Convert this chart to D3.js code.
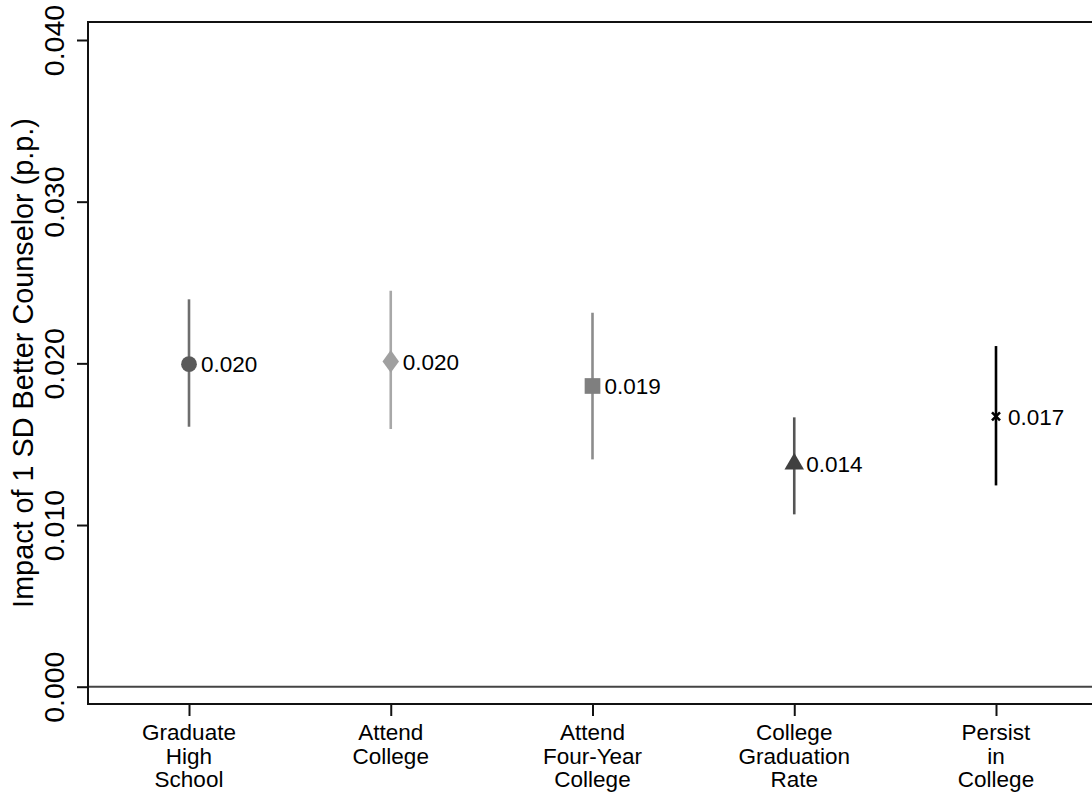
<!DOCTYPE html>
<html>
<head>
<meta charset="utf-8">
<script src="https://cdn.jsdelivr.net/npm/d3@7"></script>
<style>
  html, body { margin: 0; padding: 0; background: #fff; }
  svg { display: block; font-family: "Liberation Sans", Arial, Helvetica, sans-serif; }
</style>
</head>
<body>
<svg id="chart" width="1092" height="794"></svg>
<script>
// Outcome categories (multi-line tick labels)
const categories = [
  ["Graduate", "High", "School"],
  ["Attend", "College"],
  ["Attend", "Four-Year", "College"],
  ["College", "Graduation", "Rate"],
  ["Persist", "in", "College"]
];
// Point estimates and 95% confidence bounds
const estimates = [0.01995, 0.02012, 0.01860, 0.01378, 0.01672];
const ciLow     = [0.01608, 0.01594, 0.01406, 0.01066, 0.01245];
const ciHigh    = [0.02396, 0.02449, 0.02313, 0.01666, 0.02107];
const yTicks    = [0.000, 0.010, 0.020, 0.030, 0.040];
const yTitle    = "Impact of 1 SD Better Counselor (p.p.)";

// Marker styling per outcome
const markerShapes = ["circle", "diamond", "square", "triangle", "cross"];
const markerFill   = ["#5a5a5a", "#a0a0a0", "#7f7f7f", "#404040", "#000000"];
const lineColor    = ["#6e6e6e", "#a8a8a8", "#8c8c8c", "#555555", "#000000"];

const svg = d3.select("#chart");
const plot = { left: 88, top: 22, bottom: 704, right: 1092 };

const x = d3.scaleLinear().domain([1, 5]).range([189, 996]);
const y = d3.scaleLinear().domain([0, 0.04]).range([686.7, 40]);

const rows = estimates.map((v, i) => ({
  i, v, lo: ciLow[i], hi: ciHigh[i], shape: markerShapes[i],
  fill: markerFill[i], stroke: lineColor[i], label: categories[i]
}));

// frame: top line
svg.append("line")
  .attr("x1", plot.left).attr("x2", plot.right)
  .attr("y1", plot.top).attr("y2", plot.top)
  .attr("stroke", "#111").attr("stroke-width", 2);

// zero reference line
svg.append("line")
  .attr("x1", plot.left).attr("x2", plot.right)
  .attr("y1", y(0)).attr("y2", y(0))
  .attr("stroke", "#444").attr("stroke-width", 2);

// y axis
const yAxis = svg.append("g")
  .attr("transform", `translate(${plot.left},0)`)
  .call(d3.axisLeft(y).tickValues(yTicks).tickFormat(d3.format(".3f"))
    .tickSize(11).tickSizeOuter(0));
yAxis.select(".domain").remove();
yAxis.selectAll(".tick line").attr("stroke", "#111").attr("stroke-width", 2);
yAxis.selectAll(".tick text")
  .attr("x", 0).attr("y", 0)
  .attr("transform", "translate(-24,0) rotate(-90)")
  .attr("text-anchor", "middle")
  .attr("dy", 0)
  .attr("fill", "#000")
  .style("font-size", "28.5px");
svg.append("line")
  .attr("x1", plot.left).attr("x2", plot.left)
  .attr("y1", plot.top - 1).attr("y2", plot.bottom + 1)
  .attr("stroke", "#111").attr("stroke-width", 2);

// x axis
const xAxis = svg.append("g")
  .attr("transform", `translate(0,${plot.bottom})`)
  .call(d3.axisBottom(x).tickValues(d3.range(1, 6)).tickFormat("")
    .tickSize(12).tickSizeOuter(0));
xAxis.select(".domain").remove();
xAxis.selectAll(".tick line").attr("stroke", "#111").attr("stroke-width", 2);
svg.append("line")
  .attr("x1", plot.left - 1).attr("x2", plot.right)
  .attr("y1", plot.bottom).attr("y2", plot.bottom)
  .attr("stroke", "#111").attr("stroke-width", 2);

const xLabels = svg.append("g").selectAll("text").data(rows).join("text")
  .attr("text-anchor", "middle")
  .attr("fill", "#000")
  .style("font-size", "22.5px");
xLabels.each(function(d) {
  d3.select(this).selectAll("tspan").data(d.label).join("tspan")
    .attr("x", x(d.i + 1))
    .attr("y", (t, k) => 740 + k * 23.5)
    .text(t => t);
});

// y axis title
svg.append("text")
  .attr("transform", `translate(33,${(plot.top + plot.bottom) / 2}) rotate(-90)`)
  .attr("text-anchor", "middle")
  .attr("fill", "#000")
  .style("font-size", "28.8px")
  .text(yTitle);

// confidence intervals
svg.append("g").selectAll("line").data(rows).join("line")
  .attr("x1", d => x(d.i + 1)).attr("x2", d => x(d.i + 1))
  .attr("y1", d => y(d.hi)).attr("y2", d => y(d.lo))
  .attr("stroke", d => d.stroke).attr("stroke-width", 2.6);

// point markers
const symbolType = {
  circle: d3.symbolCircle, diamond: d3.symbolDiamond, square: d3.symbolSquare,
  triangle: d3.symbolTriangle
};
const symbolSize = { circle: 195, diamond: 150, square: 246, triangle: 165 };
const marks = svg.append("g").selectAll("g").data(rows).join("g")
  .attr("transform", d => `translate(${x(d.i + 1)},${y(d.v)})`);
marks.filter(d => d.shape !== "cross").append("path")
  .attr("d", d => d3.symbol(symbolType[d.shape], symbolSize[d.shape])())
  .attr("transform", d => d.shape === "diamond" ? "scale(1.25,1)" : null)
  .attr("fill", d => d.fill);
marks.filter(d => d.shape === "cross").append("path")
  .attr("d", "M-4,-4L4,4M-4,4L4,-4")
  .attr("stroke", d => d.fill).attr("stroke-width", 2.6).attr("fill", "none");

// value labels
svg.append("g").selectAll("text").data(rows).join("text")
  .attr("x", d => x(d.i + 1) + 12)
  .attr("y", d => y(d.v) + 8.2)
  .attr("fill", "#000")
  .style("font-size", "22.5px")
  .text(d => d3.format(".3f")(d.v));
</script>
</body>
</html>
